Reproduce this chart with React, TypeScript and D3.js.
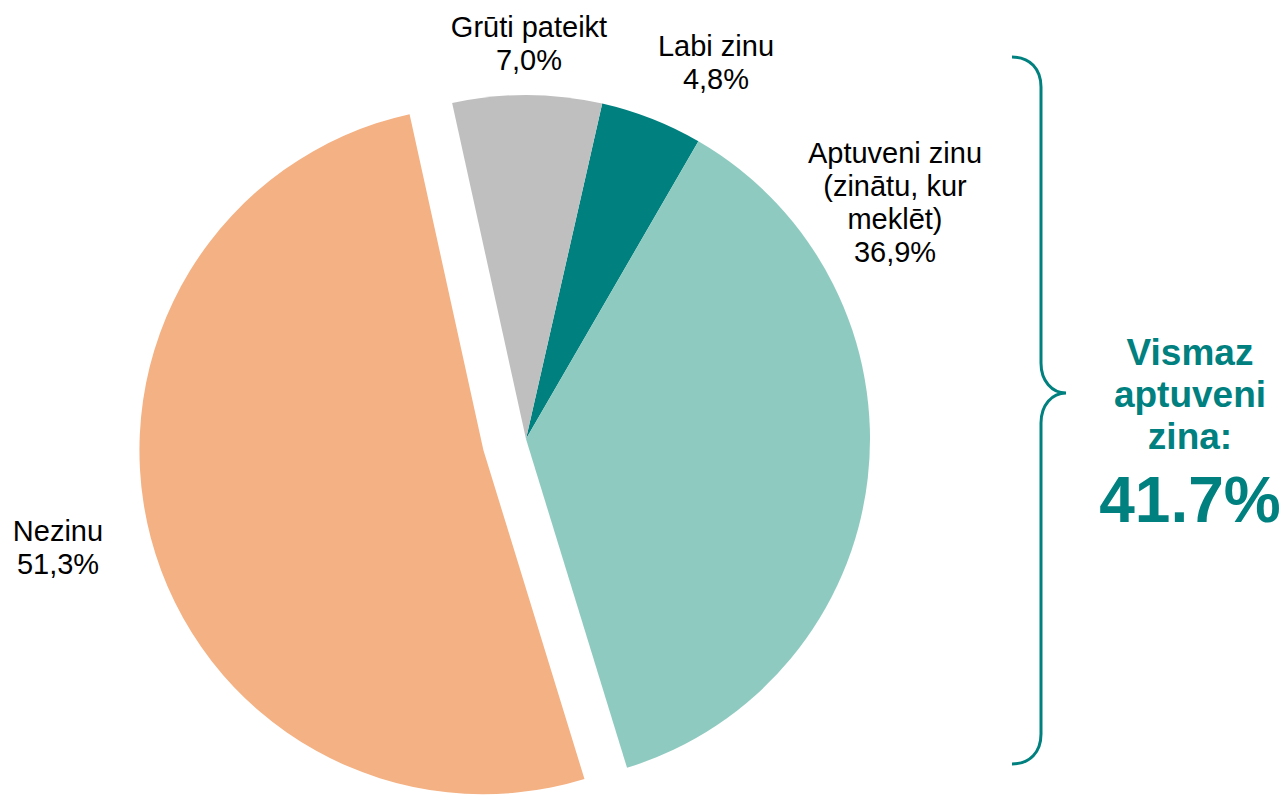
import React from 'react';
import * as d3 from 'd3';

// slices in clockwise order starting at the Labi zinu edge
const labels = ['Labi zinu', 'Aptuveni zinu', 'Nezinu', 'Grūti pateikt'];
const labelLines = [
  ['Labi zinu', '4,8%'],
  ['Aptuveni zinu', '(zinātu, kur', 'meklēt)', '36,9%'],
  ['Nezinu', '51,3%'],
  ['Grūti pateikt', '7,0%'],
];
const values = [4.8, 36.9, 51.3, 7.0];
const colors = ['#00807f', '#8fcac0', '#f4b183', '#bfbfbf'];
const exploded = [false, false, true, false];

const summaryLines = ['Vismaz', 'aptuveni', 'zina:'];
const summaryValue = '41.7%';

const width = 1284;
const height = 795;
const cx = 526;
const cy = 439;
const radius = 344;
const explodeDist = 44;
// label anchors (centre x, first baseline y)
const labelPos: [number, number][] = [
  [716, 56],
  [895, 163],
  [58, 541],
  [529, 37],
];
const teal = '#00807f';

const App = () => {
  const pie = d3
    .pie<number>()
    .sort(null)
    .value((d) => d)
    .startAngle((12.8 * Math.PI) / 180)
    .endAngle((12.8 * Math.PI) / 180 + 2 * Math.PI);
  const arcs = pie(values);
  const arc = d3.arc<d3.PieArcDatum<number>>().innerRadius(0).outerRadius(radius);

  const bx = 1041;
  const top = 57;
  const bot = 764;
  const mid = 393;
  const brace = d3.path();
  brace.moveTo(1012, top);
  brace.bezierCurveTo(1030, top, bx, top + 12, bx, top + 30);
  brace.lineTo(bx, mid - 30);
  brace.bezierCurveTo(bx, mid - 12, 1052, mid, 1066, mid);
  brace.bezierCurveTo(1052, mid, bx, mid + 12, bx, mid + 30);
  brace.lineTo(bx, bot - 30);
  brace.bezierCurveTo(bx, bot - 12, 1030, bot, 1012, bot);

  return (
    <>
      <style>{`body{margin:0}`}</style>
      <svg width={width} height={height} style={{ display: 'block', fontFamily: '"Liberation Sans", Arial, sans-serif' }}>
        <rect width={width} height={height} fill="#fff" />
        <g transform={`translate(${cx},${cy})`}>
          {arcs.map((a, i) => {
            const m = (a.startAngle + a.endAngle) / 2;
            const dx = exploded[i] ? Math.sin(m) * explodeDist : 0;
            const dy = exploded[i] ? -Math.cos(m) * explodeDist : 0;
            return (
              <path key={labels[i]} d={arc(a) || ''} fill={colors[i]} transform={`translate(${dx},${dy})`} />
            );
          })}
        </g>
        {labelLines.map((lines, i) => (
          <text key={labels[i]} x={labelPos[i][0]} y={labelPos[i][1]} textAnchor="middle" fontSize={29} fill="#000">
            {lines.map((l, j) => (
              <tspan key={j} x={labelPos[i][0]} dy={j === 0 ? 0 : 33}>
                {l}
              </tspan>
            ))}
          </text>
        ))}
        <path d={brace.toString()} fill="none" stroke={teal} strokeWidth={3} />
        <text x={1190} y={365} textAnchor="middle" fontSize={37} fontWeight="bold" fill={teal}>
          {summaryLines.map((l, j) => (
            <tspan key={j} x={1190} dy={j === 0 ? 0 : 42}>
              {l}
            </tspan>
          ))}
        </text>
        <text x={1190} y={522} textAnchor="middle" fontSize={64} fontWeight="bold" fill={teal}>
          {summaryValue}
        </text>
      </svg>
    </>
  );
};

export default App;
